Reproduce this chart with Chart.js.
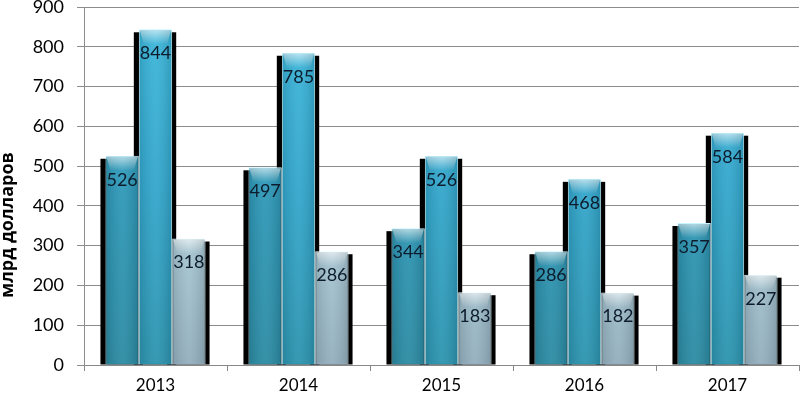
<!DOCTYPE html>
<html><head><meta charset="utf-8">
<script src="https://cdn.jsdelivr.net/npm/chart.js@4"></script>
<style>html,body{margin:0;padding:0;background:#fff;}#wrap{width:800px;height:399px;}</style>
</head><body><div id="wrap"><canvas id="c"></canvas></div>
<script>
const categories = ['2013','2014','2015','2016','2017'];
const series1 = [526, 497, 344, 286, 357];
const series2 = [844, 785, 526, 468, 584];
const series3 = [318, 286, 183, 182, 227];
const yTicks = [0,100,200,300,400,500,600,700,800,900];
const yTitle = 'млрд долларов';

const FONT = "Lato, 'Open Sans', sans-serif";

function grad(ctx, stops){
  const chart = ctx.chart; const a = chart.chartArea;
  if(!a) return stops[0][1];
  const g = chart.ctx.createLinearGradient(0, a.top, 0, a.bottom);
  stops.forEach(s=>g.addColorStop(s[0], s[1]));
  return g;
}

const shadowPlugin = {
  id:'shadow',
  beforeDatasetsDraw(chart){
    const c = chart.ctx;
    c.save(); c.fillStyle = '#000';
    chart.data.datasets.forEach((ds,i)=>{
      chart.getDatasetMeta(i).data.forEach(b=>{
        const w = b.width;
        c.fillRect(b.x - w/2 - 5, b.y + 3, w + 9, b.base - b.y - 3);
      });
    });
    c.restore();
  },
  afterDatasetsDraw(chart){
    const c = chart.ctx;
    c.save();
    chart.data.datasets.forEach((ds,i)=>{
      chart.getDatasetMeta(i).data.forEach((b,j)=>{
        const w = b.width, x0 = b.x - w/2 + 1, top = b.y + 1;
        const g = c.createLinearGradient(0, top, 0, top + 14);
        g.addColorStop(0, 'rgba(255,255,255,0.6)');
        g.addColorStop(1, 'rgba(255,255,255,0)');
        c.fillStyle = g;
        c.beginPath();
        c.moveTo(x0, top); c.lineTo(x0 + w - 2, top);
        c.lineTo(x0 + w - 6, top + 14); c.lineTo(x0 + 4, top + 14); c.closePath();
        c.fill();
        const sg = c.createLinearGradient(x0, 0, x0 + w - 2, 0);
        sg.addColorStop(0, 'rgba(0,0,0,0.10)');
        sg.addColorStop(0.5, 'rgba(255,255,255,0.06)');
        sg.addColorStop(1, 'rgba(0,0,0,0.12)');
        c.fillStyle = sg;
        c.fillRect(x0, top, w - 2, b.base - top - 1);
        c.fillStyle = '#0c1c2c';
        c.font = "18px " + FONT;
        c.textAlign = 'center'; c.textBaseline = 'middle';
        c.fillText(String(ds.data[j]), b.x, b.y + 24);
      });
    });
    c.restore();
  }
};

const titlePlugin = {
  id:'ytitle',
  afterDraw(chart){
    const c = chart.ctx;
    c.save();
    c.translate(8, 225);
    c.rotate(-Math.PI/2);
    c.fillStyle = '#000';
    c.font = "bold 18px 'Open Sans', sans-serif";
    c.textAlign = 'center'; c.textBaseline = 'middle';
    c.fillText(yTitle, 0, 0);
    c.restore();
  }
};

new Chart(document.getElementById('c'), {
  type:'bar',
  data:{
    labels: categories,
    datasets:[
      {data: series1, borderColor:'#c8f4ff', borderWidth:1, borderSkipped:'bottom',
       backgroundColor: ctx=>grad(ctx, [[0,'#3ab2d2'],[0.5,'#2d98b8'],[1,'#2a8aa2']])},
      {data: series2, borderColor:'#c8f4ff', borderWidth:1, borderSkipped:'bottom',
       backgroundColor: ctx=>grad(ctx, [[0,'#3cb8dc'],[0.5,'#32a6cc'],[1,'#2b93ae']])},
      {data: series3, borderColor:'#e8fbff', borderWidth:1, borderSkipped:'bottom',
       backgroundColor: ctx=>grad(ctx, [[0,'#d8f2f8'],[0.3,'#bfe0ea'],[0.6,'#a9cad6'],[1,'#92aebd']])}
    ]
  },
  options:{
    responsive:true, maintainAspectRatio:false, animation:false,
    layout:{padding:{top:7, right:1, left:0, bottom:0}},
    plugins:{legend:{display:false}, tooltip:{enabled:false}},
    datasets:{bar:{categoryPercentage:0.7, barPercentage:1.0}},
    scales:{
      x:{
        grid:{offset:true, drawOnChartArea:false, drawTicks:true, tickLength:6, color:'#888'},
        border:{color:'#888', width:1},
        ticks:{color:'#000', font:{family:FONT, size:17}, padding:4},
        afterFit(s){ s.height = 34; s.paddingLeft = 0; s.paddingRight = 0; }
      },
      y:{
        min:0, max:900,
        afterBuildTicks(s){ s.ticks = yTicks.map(v=>({value:v})); },
        grid:{color:'#8c8c8c', lineWidth:1, tickLength:7},
        border:{color:'#8c8c8c', width:1},
        ticks:{color:'#000', font:{family:FONT, size:18}, padding:13},
        afterFit(s){ s.width = 84; s.paddingTop = 0; s.paddingBottom = 0; }
      }
    }
  },
  plugins:[shadowPlugin, titlePlugin]
});
</script></body></html>
